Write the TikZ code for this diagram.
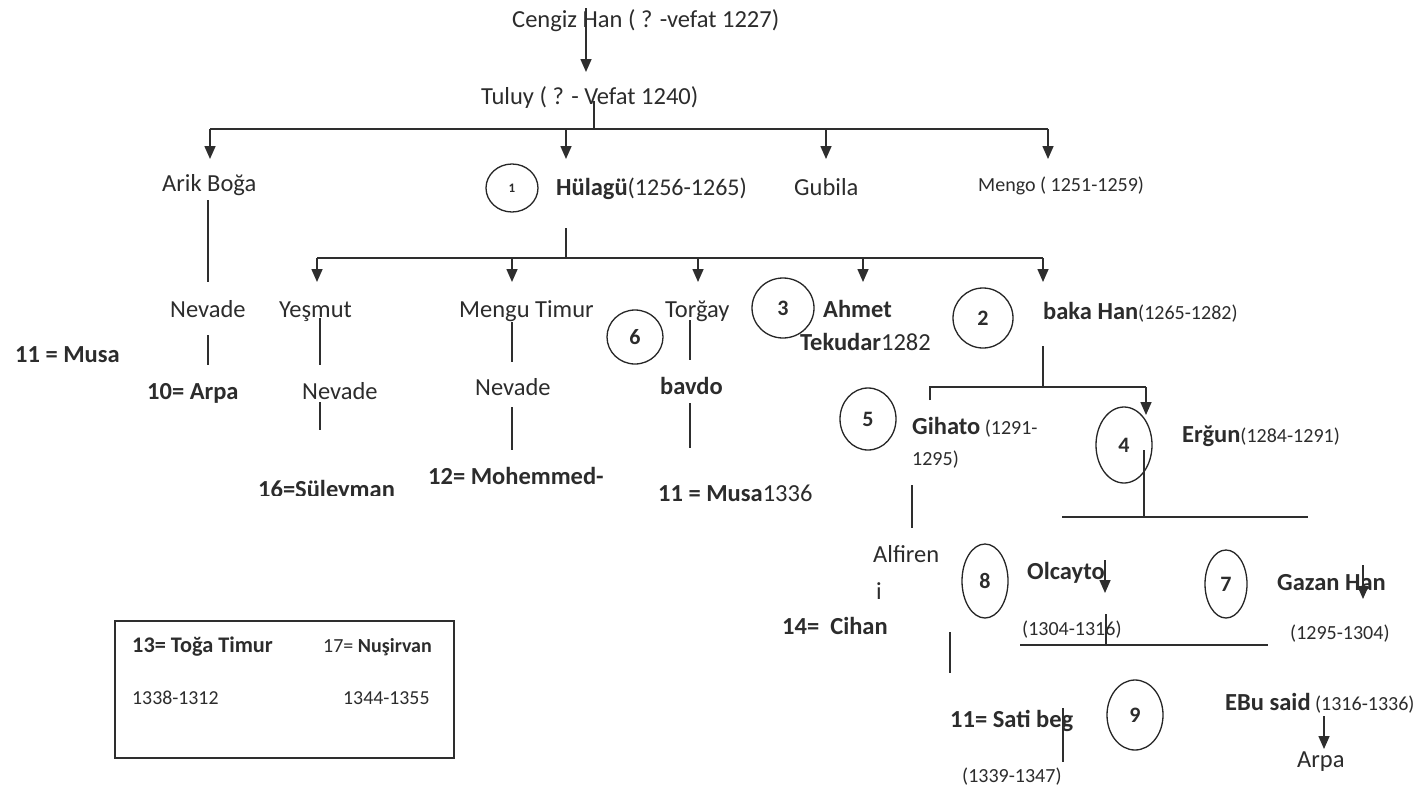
\documentclass[tikz,border=0pt]{standalone}
\usepackage{fontspec}
\setmainfont{Carlito}
\usetikzlibrary{arrows.meta,shapes.geometric}
\definecolor{txtc}{HTML}{2C2C2C}
\definecolor{linec}{HTML}{2E2E2E}
\newcommand{\smd}[1]{{\fontsize{20}{24}\selectfont #1}}
\begin{document}
\begin{tikzpicture}[x=1pt,y=-1pt,
  lbl/.style={font=\fontsize{24.5}{28}\selectfont, text=txtc, inner sep=0pt, anchor=mid west, yshift=-5pt},
  bl/.style={lbl, font=\fontsize{24.5}{28}\selectfont\bfseries},
  sml/.style={lbl, font=\fontsize{20}{24}\selectfont},
  ring/.style={ellipse, draw=black!85, line width=1.3pt, inner sep=0pt, text=txtc,
    font=\fontsize{22}{26}\selectfont\bfseries},
  ln/.style={draw=linec, line width=1.6pt},
  arr/.style={ln, -{Triangle[width=11pt,length=13pt]}}]
\useasboundingbox (0,0) rectangle (1421,787);
\fill[white] (0,0) rectangle (1421,787);

% ---- top
\node[lbl] (cengiz) at (512,20) {Cengiz Han ( ? -vefat 1227)};
\coordinate (c0) at (586,8); \coordinate (c1) at (586,72);
\draw[arr] (c0) -- (c1);
\node[lbl] (tuluy) at (481,97) {Tuluy ( ? - Vefat 1240)};
\coordinate (t0) at (594,101); \coordinate (b1m) at (594,129);
\coordinate (b1L) at (210,129); \coordinate (b1R) at (1048,129);
\coordinate (b1h) at (566,129); \coordinate (b1g) at (826,129);
\draw[ln] (t0) -- (b1m);
\draw[ln] (b1L) -- (b1R);
\coordinate (a1) at (210,159); \coordinate (a2) at (566,159);
\coordinate (a3) at (826,159); \coordinate (a4) at (1048,159);
\draw[arr] (b1L) -- (a1);
\draw[arr] (b1h) -- (a2);
\draw[arr] (b1g) -- (a3);
\draw[arr] (b1R) -- (a4);

% ---- level 1
\node[lbl] (arik) at (162,184) {Arik Boğa};
\node[ring, minimum width=52pt, minimum height=48pt, font=\fontsize{13}{15}\selectfont\bfseries] (n1) at (512,188) {1};
\node[bl] (hulagu) at (556,188) {Hülagü{\fontsize{24}{26}\selectfont\mdseries(1256-1265)}};
\node[lbl] (gubila) at (794,188) {Gubila};
\node[sml] (mengo) at (978,184) {Mengo ( 1251-1259)};

\coordinate (ar0) at (208,200); \coordinate (ar1) at (208,282);
\draw[ln] (ar0) -- (ar1);
\coordinate (h0) at (566,228); \coordinate (h1) at (566,258);
\draw[ln] (h0) -- (h1);
\coordinate (b2L) at (317,258); \coordinate (b2R) at (1043,258);
\coordinate (b2m) at (512,258); \coordinate (b2t) at (698,258); \coordinate (b2a) at (863,258);
\draw[ln] (b2L) -- (b2R);
\coordinate (d1) at (317,282); \coordinate (d2) at (512,282); \coordinate (d3) at (698,282);
\coordinate (d4) at (863,282); \coordinate (d5) at (1043,282);
\draw[arr] (b2L) -- (d1);
\draw[arr] (b2m) -- (d2);
\draw[arr] (b2t) -- (d3);
\draw[arr] (b2a) -- (d4);
\draw[arr] (b2R) -- (d5);

% ---- level 2
\node[lbl] (nev1) at (170,310) {Nevade};
\node[lbl] (yesmut) at (279,310) {Yeşmut};
\node[lbl] (mengut) at (459,310) {Mengu Timur};
\node[lbl] (torgay) at (665,310) {Torğay};
\node[ring, minimum width=62pt, minimum height=60pt] (n3) at (783,308) {3};
\node[bl] (ahmet) at (823,310) {Ahmet};
\node[lbl] (tekudar) at (800,343) {\textbf{Tekudar}1282};
\node[ring, minimum width=60pt, minimum height=60pt] (n2) at (983,318) {2};
\node[bl] (baka) at (1043,312) {baka Han\smd{\mdseries(1265-1282)}};
\node[ring, minimum width=56pt, minimum height=54pt] (n6) at (635,337) {6};
\node[bl] (musaL) at (15,355) {11 = Musa};

% Arik branch
\coordinate (nv0) at (208,335); \coordinate (nv1) at (208,365);
\draw[ln] (nv0) -- (nv1);
\node[bl] (arpa10) at (147,392) {10= Arpa};
% Yesmut branch
\coordinate (y0) at (320,318); \coordinate (y1) at (320,365);
\draw[ln] (y0) -- (y1);
\node[lbl] (nev2) at (302,392) {Nevade};
\coordinate (y2) at (320,402); \coordinate (y3) at (320,430);
\draw[ln] (y2) -- (y3);
\begin{scope}
\clip (200,440) rectangle (420,495);
\node[bl] (suleyman) at (258,490) {16=Süleyman};
\end{scope}
% Mengu Timur branch
\coordinate (m0) at (512,322); \coordinate (m1) at (512,362);
\draw[ln] (m0) -- (m1);
\node[lbl] (nev3) at (475,388) {Nevade};
\coordinate (m2) at (512,407); \coordinate (m3) at (512,450);
\draw[ln] (m2) -- (m3);
\node[bl] (mohem) at (428,477) {12= Mohemmed-};
% Torgay branch
\coordinate (tg0) at (690,320); \coordinate (tg1) at (690,360);
\draw[ln] (tg0) -- (tg1);
\node[bl] (bavdo) at (660,387) {bavdo};
\coordinate (tg2) at (690,403); \coordinate (tg3) at (690,448);
\draw[ln] (tg2) -- (tg3);
\node[lbl] (musa1336) at (658,494) {\textbf{11 = Musa}1336};

% ---- baka Han branch
\coordinate (bk0) at (1043,346); \coordinate (bk1) at (1043,387);
\draw[ln] (bk0) -- (bk1);
\coordinate (b3L) at (930,387); \coordinate (b3R) at (1146,387);
\coordinate (b3t) at (930,400); \coordinate (b3a) at (1146,415);
\draw[ln] (b3t) -- (b3L) -- (b3R);
\draw[arr] (b3R) -- (b3a);

\node[ring, minimum width=56pt, minimum height=62pt] (n5) at (868,419) {5};
\node[bl] (gihato) at (912,427) {Gihato\smd{\mdseries\ (1291-}};
\node[sml] (gihato2) at (912,458) {1295)};
\node[ring, minimum width=56pt, minimum height=76pt] (n4) at (1124,445) {4};
\node[bl] (ergun) at (1182,435) {Erğun\smd{\mdseries(1284-1291)}};

\coordinate (e0) at (1144,450); \coordinate (e1) at (1144,517);
\draw[ln] (e0) -- (e1);
\coordinate (b4L) at (1062,517); \coordinate (b4R) at (1308,517);
\draw[ln] (b4L) -- (b4R);

\coordinate (g0) at (912,485); \coordinate (g1) at (912,528);
\draw[ln] (g0) -- (g1);
\node[lbl] (alfiren) at (873,555) {Alfiren};
\node[lbl] (alfi) at (876,592) {i};
\node[bl] (cihan) at (782,627) {14=\ \ Cihan};

\node[ring, minimum width=46pt, minimum height=74pt] (n8) at (985,581) {8};
\node[bl] (olcayto) at (1027,572) {Olcayto};
\coordinate (o0) at (1105,560); \coordinate (o1) at (1105,593);
\draw[arr] (o0) -- (o1);
\node[sml] (olcd) at (1022,628) {(1304-1316)};
\coordinate (o2) at (1106,614); \coordinate (o3) at (1106,645);
\draw[ln] (o2) -- (o3);
\coordinate (b5L) at (1020,645); \coordinate (b5R) at (1268,645);
\draw[ln] (b5L) -- (b5R);

\node[ring, minimum width=42pt, minimum height=68pt] (n7) at (1226,584) {7};
\node[bl] (gazan) at (1277,583) {Gazan Han};
\coordinate (gz0) at (1363,565); \coordinate (gz1) at (1363,599);
\draw[arr] (gz0) -- (gz1);
\node[sml] (gazd) at (1290,632) {(1295-1304)};

\coordinate (s0) at (950,632); \coordinate (s1) at (950,673);
\draw[ln] (s0) -- (s1);
\node[bl] (sati) at (950,720) {11= Sati beg};
\coordinate (s2) at (1063,708); \coordinate (s3) at (1063,762);
\draw[ln] (s2) -- (s3);
\node[ring, minimum width=56pt, minimum height=70pt] (n9) at (1135,715) {9};
\node[sml] (satid) at (962,775) {(1339-1347)};

\node[bl] (ebu) at (1225,703) {EBu said\smd{\mdseries\ (1316-1336)}};
\coordinate (eb0) at (1324,716); \coordinate (eb1) at (1324,749);
\draw[arr] (eb0) -- (eb1);
\node[lbl] (arpa) at (1297,760) {Arpa};

% ---- box
\node[draw=linec, line width=1.5pt, minimum width=339pt, minimum height=137pt, inner sep=0pt, anchor=north west] (box) at (114,620) {};
\node[bl, font=\fontsize{22.3}{26}\selectfont\bfseries] (toga) at (132,645) {13= Toğa Timur};
\node[lbl, font=\fontsize{20}{23}\selectfont] (nusir) at (323,645) {17= \textbf{Nuşirvan}};
\node[sml, font=\fontsize{19.8}{23}\selectfont] (togad) at (132,697) {1338-1312};
\node[sml, font=\fontsize{19.8}{23}\selectfont] (nusird) at (343,697) {1344-1355};
\end{tikzpicture}
\end{document}
